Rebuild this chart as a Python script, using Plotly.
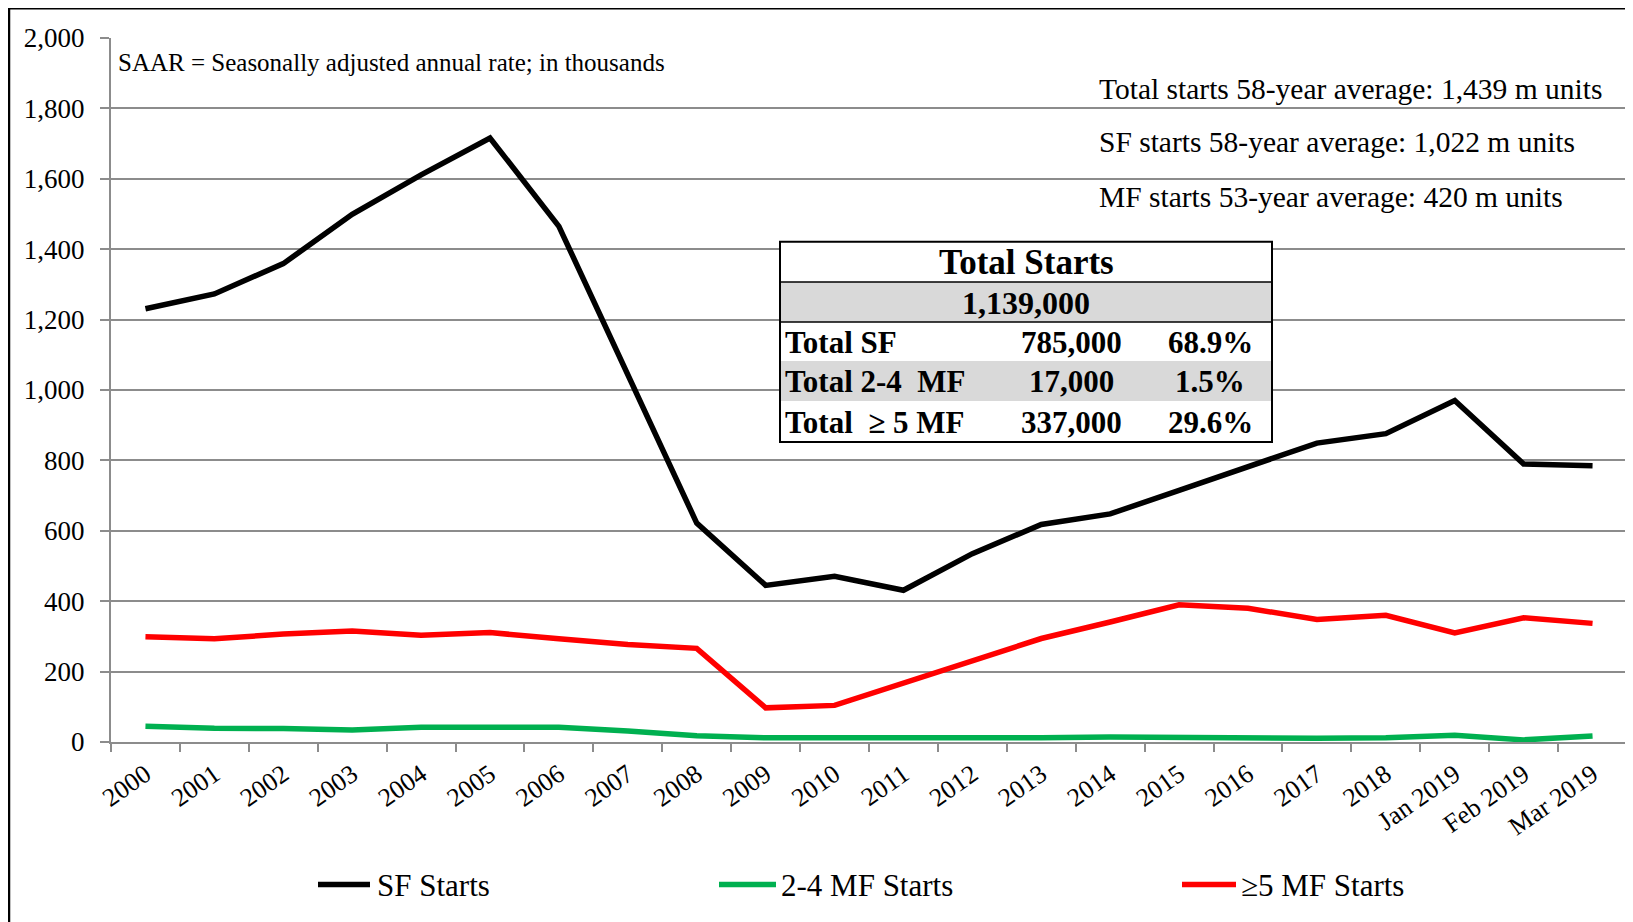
import plotly.graph_objects as go

# ---------------- data ----------------
categories = ["2000", "2001", "2002", "2003", "2004", "2005", "2006", "2007", "2008",
              "2009", "2010", "2011", "2012", "2013", "2014", "2015", "2016", "2017",
              "2018", "Jan 2019", "Feb 2019", "Mar 2019"]
sf_starts = [1231, 1273, 1359, 1499, 1611, 1716, 1465, 1046, 622, 445, 471, 431,
             535, 618, 648, 715, 782, 849, 876, 970, 790, 785]
mf24_starts = [45, 39, 38, 34, 42, 42, 42, 31, 18, 12, 12, 10, 11, 12, 14, 12, 11,
               11, 12, 19, 6, 17]
mf5_starts = [299, 293, 307, 315, 303, 311, 293, 277, 266, 97, 104, 167, 234, 294,
              341, 390, 380, 348, 360, 310, 353, 337]

series_names = ["SF Starts", "2-4 MF Starts", "\u22655 MF Starts"]
series_colors = ["#000000", "#00b050", "#ff0000"]

y_tickvals = [0, 200, 400, 600, 800, 1000, 1200, 1400, 1600, 1800, 2000]

note_text = "SAAR = Seasonally adjusted annual rate; in thousands"
avg_texts = ["Total starts 58-year average: 1,439 m units",
             "SF starts 58-year average: 1,022 m units",
             "MF starts 53-year average: 420 m units"]

table_title = "Total Starts"
table_total = "1,139,000"
table_labels = ["Total SF", "Total 2-4  MF", "Total  \u2265 5 MF"]
table_counts = ["785,000", "17,000", "337,000"]
table_shares = ["68.9%", "1.5%", "29.6%"]

# ---------------- layout geometry (page pixels) ----------------
OFF = 8                      # browser body margin
W, H = 1633 - OFF, 922 - OFF
L, R, T, B = 111, 1627, 38.3, 741.7   # plot area in page pixels
FONT = "Liberation Serif, Times New Roman, serif"


def px(x):
    return (x - L) / (R - L)


def py(y):
    return (B - y) / (B - T)


fig = go.Figure()
for name, vals, col in zip(series_names, [sf_starts, mf24_starts, mf5_starts], series_colors):
    fig.add_trace(go.Scatter(x=categories, y=vals, name=name, mode="lines",
                             line=dict(color=col, width=5.5), showlegend=False))

shapes = []
annotations = []

# outer frame
shapes.append(dict(type="rect", xref="paper", yref="paper",
                   x0=px(OFF + 1), x1=px(1660), y0=py(960), y1=py(OFF + 0.5),
                   line=dict(color="black", width=2.5), fillcolor="rgba(0,0,0,0)", layer="below"))

# notes
annotations.append(dict(x=px(116), y=py(62.5), xref="paper", yref="paper", text=note_text,
                        showarrow=False, xanchor="left", yanchor="middle",
                        font=dict(family=FONT, size=25, color="black")))
for t, yy in zip(avg_texts, [89.6, 142.7, 196.8]):
    annotations.append(dict(x=px(1097), y=py(yy), xref="paper", yref="paper", text=t,
                            showarrow=False, xanchor="left", yanchor="middle",
                            font=dict(family=FONT, size=29.5, color="black")))

# table
tl, tr = 780, 1272
rows_y = [242, 282, 322, 361, 401, 442]
shapes.append(dict(type="rect", xref="paper", yref="paper", x0=px(tl), x1=px(tr),
                   y0=py(rows_y[5]), y1=py(rows_y[0]), fillcolor="white",
                   line=dict(width=0), layer="above"))
for i in (1, 3):
    shapes.append(dict(type="rect", xref="paper", yref="paper", x0=px(tl), x1=px(tr),
                       y0=py(rows_y[i + 1]), y1=py(rows_y[i]), fillcolor="#d9d9d9",
                       line=dict(width=0), layer="above"))
for yy in (rows_y[1], rows_y[2]):
    shapes.append(dict(type="line", xref="paper", yref="paper", x0=px(tl), x1=px(tr),
                       y0=py(yy), y1=py(yy), line=dict(color="black", width=1.5), layer="above"))
shapes.append(dict(type="rect", xref="paper", yref="paper", x0=px(tl), x1=px(tr),
                   y0=py(rows_y[5]), y1=py(rows_y[0]), fillcolor="rgba(0,0,0,0)",
                   line=dict(color="black", width=2), layer="above"))

tfont = dict(family=FONT, size=31, color="black")
annotations.append(dict(x=px((tl + tr) / 2), y=py((rows_y[0] + rows_y[1]) / 2 + 1), xref="paper",
                        yref="paper", text="<b>%s</b>" % table_title, showarrow=False,
                        xanchor="center", yanchor="middle",
                        font=dict(family=FONT, size=35, color="black")))
annotations.append(dict(x=px((tl + tr) / 2), y=py((rows_y[1] + rows_y[2]) / 2 + 1), xref="paper",
                        yref="paper", text="<b>%s</b>" % table_total, showarrow=False,
                        xanchor="center", yanchor="middle",
                        font=dict(family=FONT, size=32, color="black")))
for i in range(3):
    yc = py((rows_y[2 + i] + rows_y[3 + i]) / 2 + 1)
    annotations.append(dict(x=px(783), y=yc, xref="paper", yref="paper",
                            text="<b>%s</b>" % table_labels[i], showarrow=False,
                            xanchor="left", yanchor="middle", font=tfont))
    annotations.append(dict(x=px(1071), y=yc, xref="paper", yref="paper",
                            text="<b>%s</b>" % table_counts[i], showarrow=False,
                            xanchor="center", yanchor="middle", font=tfont))
    annotations.append(dict(x=px(1210), y=yc, xref="paper", yref="paper",
                            text="<b>%s</b>" % table_shares[i], showarrow=False,
                            xanchor="center", yanchor="middle", font=tfont))

# manual legend
leg_y = 884
for name, col, (x0, x1, xt) in zip(series_names, series_colors,
                                   [(318, 370, 375), (719, 776, 779), (1182, 1236, 1239)]):
    shapes.append(dict(type="line", xref="paper", yref="paper", x0=px(x0), x1=px(x1),
                       y0=py(leg_y), y1=py(leg_y), line=dict(color=col, width=5.5)))
    annotations.append(dict(x=px(xt), y=py(leg_y + 1), xref="paper", yref="paper", text=name,
                            showarrow=False, xanchor="left", yanchor="middle",
                            font=dict(family=FONT, size=31, color="black")))

fig.update_layout(
    width=W, height=H,
    margin=dict(l=L - OFF, r=W - (R - OFF), t=T - OFF, b=H - (B - OFF), pad=0),
    paper_bgcolor="white",
    plot_bgcolor="rgba(0,0,0,0)",
    font=dict(family=FONT, color="black"),
    shapes=shapes,
    annotations=annotations,
    showlegend=False,
)
fig.update_xaxes(type="category", range=[-0.5, len(categories) - 0.5], tickson="boundaries",
                 ticks="outside", ticklen=8, tickcolor="#8c8c8c", tickwidth=2,
                 showline=True, linecolor="#8c8c8c", linewidth=2, showgrid=False,
                 ticklabelstandoff=5,
                 tickangle=-35, tickfont=dict(family=FONT, size=26, color="black"))
fig.update_yaxes(range=[0, 2000], tickvals=y_tickvals, tickformat=",d",
                 ticks="outside", ticklen=9, tickcolor="#8c8c8c", tickwidth=2,
                 showline=True, linecolor="#8c8c8c", linewidth=2,
                 showgrid=True, gridcolor="#8c8c8c", gridwidth=1.5, zeroline=False,
                 ticklabelstandoff=10,
                 tickfont=dict(family=FONT, size=27, color="black"))

fig.write_html("out.html")
